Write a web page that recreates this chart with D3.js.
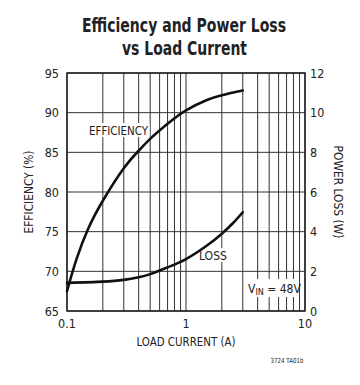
<!DOCTYPE html>
<html><head><meta charset="utf-8">
<script src="https://cdn.jsdelivr.net/npm/d3@7"></script>
<style>body{margin:0;background:#fff} text{font-stretch:condensed}</style>
</head><body><svg id="c" width="360" height="385"></svg>
<script>
const loadCurrent = [0.1, 0.12, 0.15, 0.2, 0.3, 0.4, 0.5, 0.7, 1, 1.5, 2, 3];
const efficiency = [67.5, 71.5, 75.3, 78.9, 83.0, 85.2, 86.7, 88.6, 90.3, 91.6, 92.2, 92.8];
const lossCurrent = [0.1, 0.2, 0.3, 0.4, 0.5, 0.7, 1, 1.5, 2, 2.5, 3];
const powerLoss = [1.42, 1.48, 1.57, 1.7, 1.86, 2.2, 2.62, 3.3, 3.9, 4.45, 4.98];
const effTicks = [65, 70, 75, 80, 85, 90, 95];
const lossTicks = [0, 2, 4, 6, 8, 10, 12];
const xTicks = [0.1, 1, 10];

const F = "'DejaVu Sans Condensed','DejaVu Sans','Liberation Sans',sans-serif";
const svg = d3.select("#c");
const L = 67, R = 305, T = 73, B = 311;
const x = d3.scaleLog().domain([0.1, 10]).range([L, R]);
const yE = d3.scaleLinear().domain([65, 95]).range([B, T]);
const yP = d3.scaleLinear().domain([0, 12]).range([B, T]);
const ink = "#222";

function txt(t, xx, yy, size, opts) {
  opts = opts || {};
  const e = svg.append("text").attr("x", xx).attr("y", yy).attr("text-anchor", opts.anchor || "middle")
    .attr("font-family", F).attr("font-size", size).attr("fill", ink).text(t);
  if (opts.bold) e.attr("font-weight", "bold");
  if (opts.len) e.attr("textLength", opts.len).attr("lengthAdjust", "spacingAndGlyphs");
  if (opts.transform) e.attr("transform", opts.transform);
  return e;
}

// title
txt("Efficiency and Power Loss", 184, 32, 19, {bold: true, len: 204});
txt("vs Load Current", 184.5, 55, 19, {bold: true, len: 125});

// vertical log grid
const vgrid = [];
for (let d = 0.1; d < 10; d *= 10) for (let k = 1; k <= 9; k++) vgrid.push(+(d * k).toPrecision(3));
vgrid.push(10);
svg.append("g").selectAll("line").data(vgrid).join("line")
  .attr("x1", d => x(d)).attr("x2", d => x(d)).attr("y1", T).attr("y2", B)
  .attr("stroke", "#333").attr("stroke-width", 1);
// horizontal grid
svg.append("g").selectAll("line").data(effTicks).join("line")
  .attr("x1", L).attr("x2", R).attr("y1", d => yE(d)).attr("y2", d => yE(d))
  .attr("stroke", "#333").attr("stroke-width", 1);

// label boxes (white background)
function labelBox(cx, cy, w, h) {
  svg.append("rect").attr("x", cx - w / 2).attr("y", cy - h / 2).attr("width", w).attr("height", h).attr("fill", "#fff");
}
labelBox(118.5, 130, 62, 14);
labelBox(213, 255, 32, 14);
labelBox(272, 288, 54, 18);

// frame
svg.append("rect").attr("x", L).attr("y", T).attr("width", R - L).attr("height", B - T)
  .attr("fill", "none").attr("stroke", ink).attr("stroke-width", 1.5);

// curves
const lineE = d3.line().x((d, i) => x(loadCurrent[i])).y(d => yE(d)).curve(d3.curveNatural);
const lineP = d3.line().x((d, i) => x(lossCurrent[i])).y(d => yP(d)).curve(d3.curveNatural);
svg.append("path").attr("d", lineE(efficiency)).attr("fill", "none").attr("stroke", "#111").attr("stroke-width", 2.6).attr("stroke-linecap", "round");
svg.append("path").attr("d", lineP(powerLoss)).attr("fill", "none").attr("stroke", "#111").attr("stroke-width", 2.6).attr("stroke-linecap", "round");

// curve labels
txt("EFFICIENCY", 118.5, 134.5, 12, {len: 59});
txt("LOSS", 213, 259.5, 12, {len: 28});
const vt = svg.append("text").attr("x", 248).attr("y", 292.5).attr("text-anchor", "start")
  .attr("font-family", F).attr("font-size", 12).attr("fill", ink);
vt.append("tspan").text("V");
vt.append("tspan").attr("font-size", 9).attr("dy", 2).text("IN");
vt.append("tspan").attr("dy", -2).text(" = 48V");

// axes tick labels
svg.append("g").selectAll("text").data(effTicks).join("text")
  .attr("x", 59).attr("y", d => yE(d) + 4.5).attr("text-anchor", "end")
  .attr("font-family", F).attr("font-size", 12.5).attr("fill", ink).text(d => d);
svg.append("g").selectAll("text").data(lossTicks).join("text")
  .attr("x", 310).attr("y", d => yP(d) + 4.5).attr("text-anchor", "start")
  .attr("font-family", F).attr("font-size", 12.5).attr("fill", ink).text(d => d);
svg.append("g").selectAll("text").data(xTicks).join("text")
  .attr("x", d => x(d)).attr("y", 327.5).attr("text-anchor", "middle")
  .attr("font-family", F).attr("font-size", 12.5).attr("fill", ink).text(d => d);

// axis titles
txt("LOAD CURRENT (A)", 186, 346, 12.5, {len: 99});
txt("EFFICIENCY (%)", 0, 0, 12.5, {len: 83, transform: "translate(33,192) rotate(-90)"});
txt("POWER LOSS (W)", 0, 0, 12.5, {len: 93, transform: "translate(334,192) rotate(90)"});
txt("3724 TA01b", 287, 363, 7, {len: 33});
</script></body></html>
